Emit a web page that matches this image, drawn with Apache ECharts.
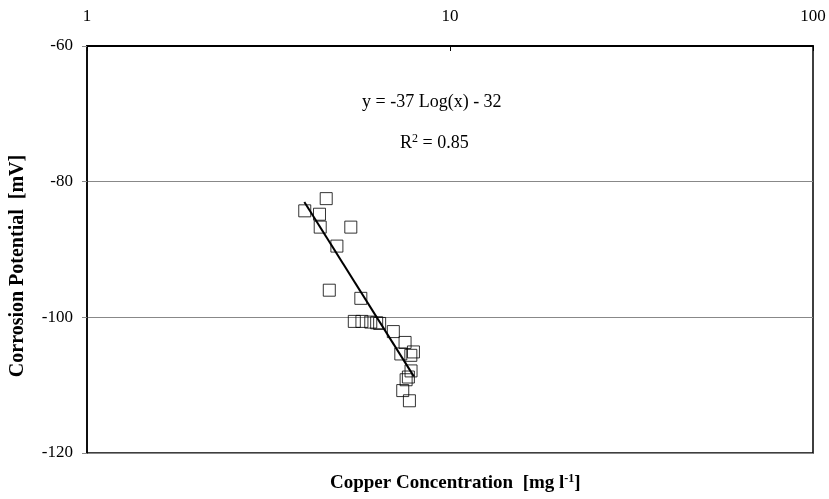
<!DOCTYPE html>
<html>
<head>
<meta charset="utf-8">
<script src="https://cdn.jsdelivr.net/npm/echarts@6/dist/echarts.min.js"></script>
<style>html,body{margin:0;padding:0;background:#fff}#c{width:829px;height:499px}</style>
</head>
<body>
<div id="c"></div>
<script>
const copperConc = [4.56, 3.98, 4.37, 4.39, 5.33, 4.88, 4.65, 5.68, 5.45, 5.72, 6.05, 6.28, 6.40, 6.98, 7.52, 7.32, 7.93, 7.80, 7.81, 7.57, 7.68, 7.41, 7.73];
const corrosionPot = [-82.5, -84.3, -84.8, -86.7, -86.7, -89.5, -96.0, -97.2, -100.6, -100.6, -100.7, -100.8, -100.9, -102.1, -103.7, -105.4, -105.1, -105.6, -107.9, -109.2, -108.8, -110.8, -112.3];
const trendX = [3.97, 7.95];
const trendY = [-83.0, -108.7];
const yTicks = [-120, -100, -80, -60];
const xTicks = [1, 10, 100];
const xTitle = 'Copper Concentration  [mg l{sup|-1}]';
const yTitle = 'Corrosion Potential  [mV]';

const serif = '"Liberation Serif", "Times New Roman", serif';
const chart = echarts.init(document.getElementById('c'));
chart.setOption({
  animation: false,
  backgroundColor: '#fff',
  grid: { left: 87, right: 16, top: 46, bottom: 46, outerBoundsMode: 'none', containLabel: false,
    show: true, borderColor: '#000', borderWidth: 1.5 },
  xAxis: {
    type: 'log', logBase: 10, min: 1, max: 100, position: 'top',
    axisLine: { show: true, lineStyle: { color: '#000', width: 2 } },
    axisTick: { show: true, inside: true, length: 5, lineStyle: { color: '#000' } },
    minorTick: { show: false },
    splitLine: { show: false },
    axisLabel: { fontFamily: serif, fontSize: 17, color: '#000', margin: 21,
      formatter: v => xTicks.includes(Math.round(v)) ? String(Math.round(v)) : '' }
  },
  yAxis: {
    type: 'value', min: -120, max: -60, interval: 20,
    axisLine: { show: true, lineStyle: { color: '#000', width: 1.5 } },
    axisTick: { show: true, length: 5, lineStyle: { color: '#888' } },
    splitLine: { show: true, lineStyle: { color: '#888', width: 1 } },
    axisLabel: { fontFamily: serif, fontSize: 17, color: '#000', margin: 14,
      formatter: v => yTicks.includes(v) ? String(v) : '' }
  },
  series: [
    {
      type: 'scatter', symbol: 'rect', symbolSize: 12,
      itemStyle: { color: 'rgba(255,255,255,0)', borderColor: '#000', borderWidth: 1 },
      data: copperConc.map((x, i) => [x, corrosionPot[i]]), z: 2
    },
    {
      type: 'line', symbol: 'none', lineStyle: { color: '#000', width: 2 },
      data: trendX.map((x, i) => [x, trendY[i]]), z: 3
    }
  ],
  graphic: [
    { type: 'text', left: 362, top: 93, style: { text: 'y = -37 Log(x) - 32', font: '18px ' + serif, fill: '#000' } },
    { type: 'text', left: 400, top: 133, style: { text: 'R{sup|2} = 0.85', font: '18px ' + serif, fill: '#000',
      rich: { sup: { fontFamily: serif, fontSize: 12, verticalAlign: 'top', padding: [0,0,9,0] } } } },
    { type: 'text', left: 330, top: 473, style: { text: xTitle, font: 'bold 19px ' + serif, fill: '#000',
      rich: { sup: { fontFamily: serif, fontWeight: 'bold', fontSize: 12, verticalAlign: 'top', padding: [0,0,9,0] } } } },
    { type: 'text', x: 18, y: 266, rotation: Math.PI / 2,
      style: { text: yTitle, font: 'bold 20px ' + serif, fill: '#000', align: 'center', verticalAlign: 'middle' } }
  ]
});
</script>
</body>
</html>
